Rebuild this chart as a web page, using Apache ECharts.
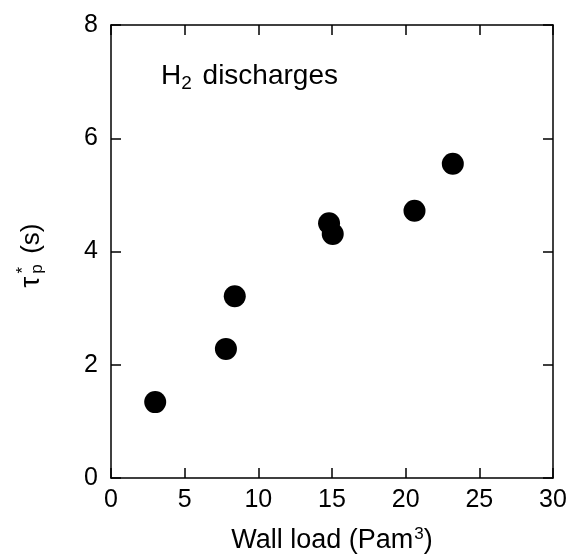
<!DOCTYPE html>
<html>
<head>
<meta charset="utf-8">
<script src="https://cdn.jsdelivr.net/npm/echarts@6/dist/echarts.min.js"></script>
<style>
  html, body { margin: 0; padding: 0; background: #fff; }
  #main { width: 570px; height: 556px; }
</style>
</head>
<body>
<div id="main"></div>
<script>
// wall load (Pam^3) vs tau_p* (s), H2 discharges
var wallLoad = [3.0, 7.8, 8.4, 14.8, 15.05, 20.6, 23.2];
var tauP = [1.34, 2.28, 3.21, 4.50, 4.31, 4.72, 5.55];
var xTicks = [0, 5, 10, 15, 20, 25, 30];
var yTicks = [0, 2, 4, 6, 8];

var points = [];
for (var i = 0; i < wallLoad.length; i++) {
	points.push([wallLoad[i], tauP[i]]);
}

var font = 'Liberation Sans, Arial, sans-serif';
var lineStyle = { color: '#000', width: 1.5 };

var myChart = echarts.init(document.getElementById('main'));

var option = {
	backgroundColor: '#fff',
	animation: false,
	grid: {
		left: 111,
		right: 17,
		top: 25,
		bottom: 78,
		outerBoundsMode: 'none'
	},
	xAxis: [{
		type: 'value',
		min: xTicks[0],
		max: xTicks[xTicks.length - 1],
		interval: 5,
		axisLine: { onZero: false, lineStyle: lineStyle },
		axisTick: { inside: true, length: 10, lineStyle: lineStyle },
		splitLine: { show: false },
		axisLabel: { color: '#000', fontSize: 25, fontFamily: font, margin: 10 },
		name: 'Wall load (Pam{sup|3})',
		nameLocation: 'middle',
		nameGap: 48,
		nameTextStyle: {
			color: '#000', fontSize: 27, fontFamily: font,
			rich: { sup: { fontSize: 17, fontFamily: font, color: '#000', padding: [0, 0, 12, 1] } }
		}
	}, {
		type: 'value',
		position: 'top',
		min: xTicks[0],
		max: xTicks[xTicks.length - 1],
		interval: 5,
		axisLine: { onZero: false, lineStyle: lineStyle },
		axisTick: { inside: true, length: 10, lineStyle: lineStyle },
		axisLabel: { show: false },
		splitLine: { show: false }
	}],
	yAxis: [{
		type: 'value',
		min: yTicks[0],
		max: yTicks[yTicks.length - 1],
		interval: 2,
		axisLine: { show: true, onZero: false, lineStyle: lineStyle },
		axisTick: { show: true, inside: true, length: 10, lineStyle: lineStyle },
		splitLine: { show: false },
		axisLabel: { color: '#000', fontSize: 25, fontFamily: font, margin: 13 },
		name: '{t|τ}{sub|p}{sup|*}{s|(s)}',
		nameLocation: 'middle',
		nameGap: 63,
		nameRotate: 90,
		nameTextStyle: {
			color: '#000',
			rich: {
				t: { fontSize: 27, fontFamily: font, color: '#000' },
				sub: { fontSize: 17, fontFamily: font, color: '#000', padding: [12, 0, 0, 3] },
				sup: { fontSize: 17, fontFamily: font, color: '#000', padding: [0, 13, 16, -9] },
				s: { fontSize: 26, fontFamily: font, color: '#000', padding: [0, 8, 0, 0] }
			}
		}
	}, {
		type: 'value',
		position: 'right',
		min: yTicks[0],
		max: yTicks[yTicks.length - 1],
		interval: 2,
		axisLine: { show: true, onZero: false, lineStyle: lineStyle },
		axisTick: { show: true, inside: true, length: 10, lineStyle: lineStyle },
		axisLabel: { show: false },
		splitLine: { show: false }
	}],
	graphic: [{
		type: 'text',
		left: 161,
		top: 62,
		style: {
			text: '{t|H}{sub|2}{t| discharges}',
			rich: {
				t: { fontSize: 28, fontFamily: font, fill: '#000' },
				sub: { fontSize: 19, fontFamily: font, fill: '#000', padding: [16, 3, 0, 0] }
			}
		}
	}],
	series: [{
		type: 'scatter',
		data: points,
		symbol: 'circle',
		symbolSize: 22,
		itemStyle: { color: '#000', opacity: 1 }
	}]
};

myChart.setOption(option);
</script>
</body>
</html>
